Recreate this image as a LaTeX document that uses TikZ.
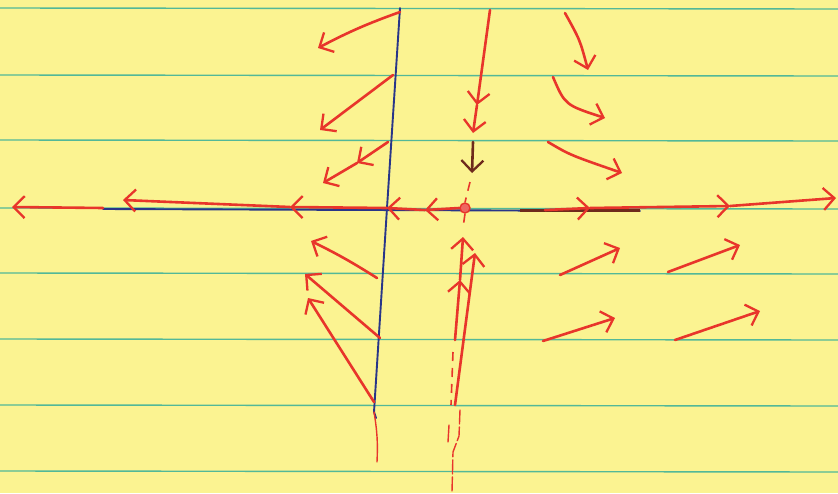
\documentclass[tikz,border=0pt]{standalone}
\usetikzlibrary{arrows.meta}
\definecolor{paper}{HTML}{FBF391}
\definecolor{rulegreen}{HTML}{52B898}
\definecolor{ink}{HTML}{283689}
\definecolor{pen}{HTML}{E8352B}
\definecolor{burnt}{HTML}{6E2A1C}
\tikzset{ruled/.style={rulegreen,line width=1.4pt},
 axis/.style={ink,line width=1.9pt,line cap=round},
 flow/.style={pen,line width=2.6pt,line cap=round,-{Straight Barb[length=11pt,width=22pt,line width=2.3pt]}},
 faint/.style={pen,line width=1.4pt,line cap=round},
 gap/.style={pen,line width=1.6pt,dash pattern=on 9pt off 7pt}}
\begin{document}
\begin{tikzpicture}[x=1pt,y=-1pt]
\fill[paper](0,0) rectangle (838,493);
\useasboundingbox(0,0) rectangle (838,493);
% ruled paper
\foreach \y in {8,75,140,208,273,339,405,471}{
 \draw[ruled](0,\y)--(838,\y+1);}
% axes
\coordinate (origin) at (387,208);
\draw[axis](400,8)--(origin)--(374,412)--(376,418);
\draw[axis](103,209)--(640,211);
\draw[burnt,line width=3pt](520,210)--(640,210);
\draw[faint](374,412) to[bend left=6] (377,462);
% the other equilibrium
\node[circle,draw=pen,fill=pen!75,minimum size=10pt,inner sep=0pt,line width=1.4pt] (eq) at (465,208) {};
% flow along the horizontal axis
\draw[flow](eq.west)--(425,210);
\draw[flow](425,210)--(origin);
\draw[flow](origin)--(290,207);
\draw[flow](290,207)--(123,200);
\draw[flow](103,208)--(12,207);
\draw[flow](545,210)--(590,208);
\draw[flow](590,208)--(730,206);
\draw[flow](730,206)--(836,198);
% flow along the vertical line through eq
\draw[flow](490,10)--(477,105);
\draw[flow](477,105)--(473,133);
\draw[burnt,line width=2.6pt,line cap=round,-{Straight Barb[length=11pt,width=22pt,line width=2.3pt]}](473,142)--(472,173);
\draw[gap](470,182)--(eq.north);
\draw[gap](eq.south)--(463,228);
\draw[flow](455,340)--(460,280);
\draw[flow](460,280)--(463,237);
\draw[flow](455,405)--(475,253);
\draw[gap](453,352)--(451,405);
\draw[faint](449,425)--(448,442);
\draw[faint,dash pattern=on 14pt off 3pt](460,410)--(459,436)--(453,452)--(452,492);
% upper left
\draw[flow](400,12) to[bend right=4] (318,48);
\draw[flow](393,75)--(320,130);
\draw[flow](388,142)--(357,163);
\draw[flow](357,163)--(323,183);
% lower left
\draw[flow](377,278) to[bend right=3] (311,241);
\draw[flow](380,338)--(305,274);
\draw[flow](374,402)--(308,298);
% upper right
\draw[flow](565,13) .. controls (580,40) .. (588,70);
\draw[flow](553,77) .. controls (565,105) .. (605,118);
\draw[flow](548,142) .. controls (570,155) .. (622,173);
% lower right
\draw[flow](560,275)--(620,248);
\draw[flow](668,272)--(740,245);
\draw[flow](543,341)--(615,318);
\draw[flow](675,340)--(760,311);
\end{tikzpicture}
\end{document}
